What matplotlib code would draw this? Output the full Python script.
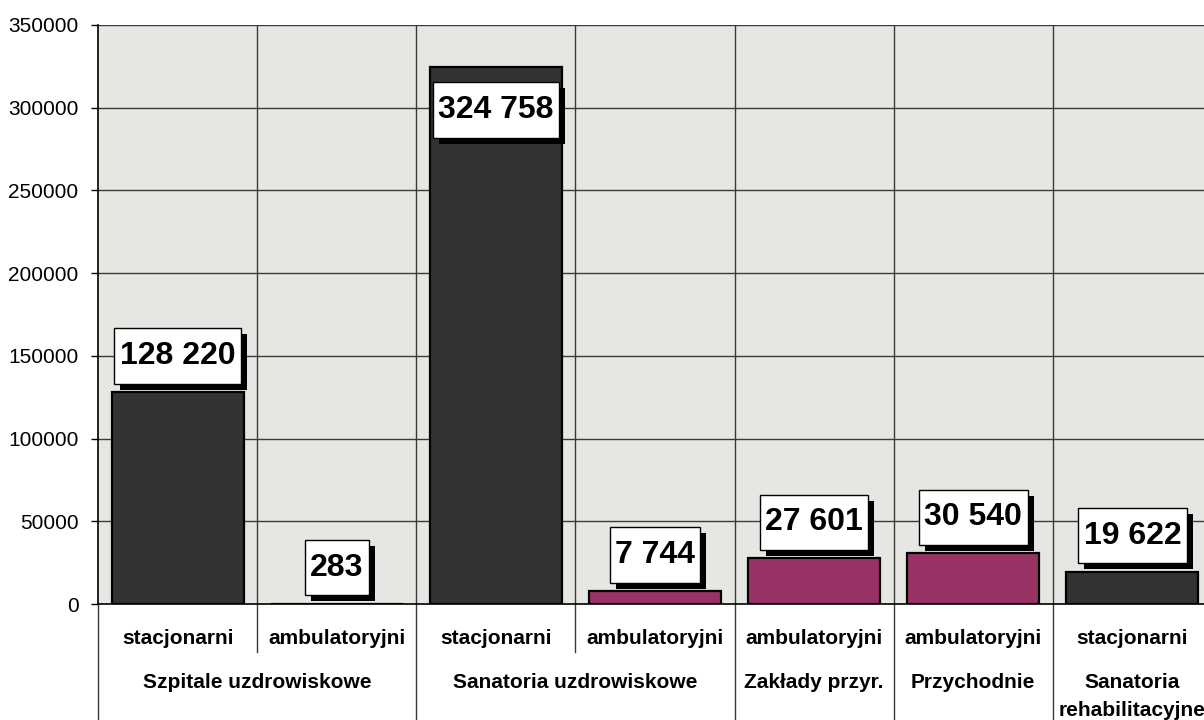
import matplotlib
matplotlib.use("Agg")
import matplotlib.pyplot as plt
from matplotlib import patheffects
from matplotlib.path import Path
from matplotlib.transforms import blended_transform_factory

plt.rcParams['font.family'] = ['Liberation Sans', 'DejaVu Sans']

# ---- data ----
sub_labels = ["stacjonarni", "ambulatoryjni", "stacjonarni", "ambulatoryjni",
              "ambulatoryjni", "ambulatoryjni", "stacjonarni"]
values = [128220, 283, 324758, 7744, 27601, 30540, 19622]
group_labels = ["Szpitale uzdrowiskowe", "Sanatoria uzdrowiskowe", "Zakłady przyr.",
                "Przychodnie", "Sanatoria\nrehabilitacyjne"]
group_sizes = [2, 2, 1, 1, 1]
bar_kind = ["s", "a", "s", "a", "a", "a", "s"]
yticks = [0, 50000, 100000, 150000, 200000, 250000, 300000, 350000]

DARK = "#333333"
MAGENTA = "#993366"
GRID = "#3a3a3a"

W, H = 1204, 720
fig = plt.figure(figsize=(W / 100, H / 100), dpi=100)
ax_left, ax_right, ax_top, ax_bot = 98, 1212, 25, 604
ax = fig.add_axes([ax_left / W, 1 - ax_bot / H, (ax_right - ax_left) / W, (ax_bot - ax_top) / H])
ax.set_facecolor("#e6e6e3")

x = list(range(len(values)))
colors = [DARK if k == "s" else MAGENTA for k in bar_kind]
ax.bar(x, values, width=0.83, color=colors, edgecolor="black", linewidth=1.6, zorder=3)

ax.set_xlim(-0.5, len(values) - 0.5)
ax.set_ylim(0, 350000)
ax.set_yticks(yticks)
ax.set_yticklabels([str(v) for v in yticks], fontsize=15)
ax.tick_params(axis="y", direction="out", length=5, width=1, pad=9, colors="black")
ax.set_xticks([])
ax.grid(False)
for yv in yticks[1:]:
    ax.axhline(yv, color=GRID, lw=1, zorder=1)
for b in range(1, len(values)):
    ax.axvline(b - 0.5, color=GRID, lw=1, zorder=1)
for s in ["top", "right"]:
    ax.spines[s].set_visible(False)
ax.spines["left"].set_color("black")
ax.spines["bottom"].set_color("black")
ax.spines["bottom"].set_linewidth(1.2)
ax.spines["left"].set_linewidth(1.2)


def label_box(x0, y0, width, height, mutation_size):
    px_ = 0.17 * mutation_size
    py_ = 0.40 * mutation_size
    x1, y1 = x0 - px_, y0 - py_
    x2, y2 = x0 + width + px_, y0 + height + py_
    return Path([(x1, y1), (x2, y1), (x2, y2), (x1, y2), (x1, y1)],
                [Path.MOVETO, Path.LINETO, Path.LINETO, Path.LINETO, Path.CLOSEPOLY])


# data labels with shadow
px = 0.72  # points per pixel at dpi 100
for xi, v in zip(x, values):
    off = 36 if v < 300000 else -43
    txt = f"{v:,}".replace(",", " ")
    ann = ax.annotate(txt, xy=(xi, v), xytext=(0, off * px), textcoords="offset points",
                      ha="center", va="center", fontsize=23, fontweight="bold", color="black",
                      bbox=dict(boxstyle=label_box, fc="white", ec="black", lw=1),
                      zorder=6, annotation_clip=False)
    ann.get_bbox_patch().set_path_effects([
        patheffects.SimplePatchShadow(offset=(6 * px, -6 * px), shadow_rgbFace="black", alpha=1.0),
        patheffects.Normal()])

# category labels below axis
tr = blended_transform_factory(ax.transData, fig.transFigure)
for xi, lab in zip(x, sub_labels):
    ax.text(xi, 1 - 638 / H, lab, transform=tr, ha="center", va="center",
            fontsize=15, fontweight="bold")

start = 0
full_lines = [-0.5]
for g, n in zip(group_labels, group_sizes):
    center = start + (n - 1) / 2
    for li, line in enumerate(g.split("\n")):
        ax.text(center, 1 - (688 + 28 * li) / H, line, transform=tr, ha="center", va="baseline",
                fontsize=15, fontweight="bold")
    for k in range(1, n):
        ax.plot([start + k - 0.5] * 2, [1 - ax_bot / H, 1 - 652 / H], transform=tr,
                color=GRID, lw=1, clip_on=False)
    start += n
    full_lines.append(start - 0.5)
for b in full_lines:
    ax.plot([b, b], [1 - ax_bot / H, 0], transform=tr, color=GRID, lw=1, clip_on=False)

fig.savefig("out.png", dpi=100)
